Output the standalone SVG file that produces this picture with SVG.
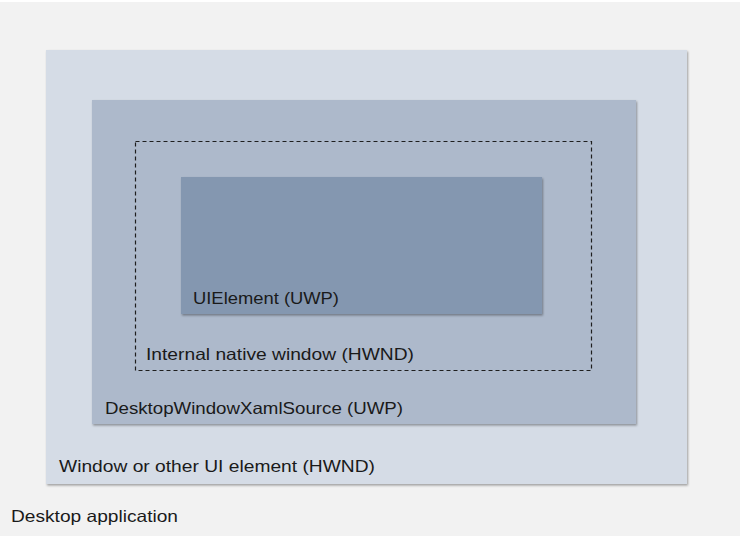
<svg xmlns="http://www.w3.org/2000/svg" width="740" height="536" viewBox="0 0 740 536">
  <defs>
    <filter id="sh" x="-5%" y="-5%" width="110%" height="110%">
      <feDropShadow dx="1" dy="1.5" stdDeviation="1.2" flood-color="#000" flood-opacity="0.35"/>
    </filter>
  </defs>
  <style>
    text { font-family: "Liberation Sans", Arial, sans-serif; font-size: 16.5px; fill: #1a1a1a; }
    .dash { fill: none; stroke: #1e1e1e; stroke-width: 1.2; stroke-dasharray: 4 3; }
  </style>
  <rect x="0" y="0" width="740" height="536" fill="#f2f2f2"/>
  <rect x="0" y="0" width="740" height="2" fill="#ffffff"/>
  <g id="window">
    <rect x="46" y="50" width="641" height="434" fill="#d5dce6" filter="url(#sh)"/>
    <text x="59" y="472" textLength="316" lengthAdjust="spacingAndGlyphs">Window or other UI element (HWND)</text>
  </g>
  <g id="xamlsource">
    <rect x="92" y="100" width="544" height="324" fill="#adb9cb" filter="url(#sh)"/>
    <text x="105" y="414" textLength="298" lengthAdjust="spacingAndGlyphs">DesktopWindowXamlSource (UWP)</text>
  </g>
  <g id="native">
    <rect class="dash" x="135.5" y="141.5" width="456" height="229"/>
    <text x="146" y="360" textLength="268" lengthAdjust="spacingAndGlyphs">Internal native window (HWND)</text>
  </g>
  <g id="uielement">
    <rect x="181" y="177" width="361" height="137" fill="#8497b0" filter="url(#sh)"/>
    <text x="193" y="304" textLength="146" lengthAdjust="spacingAndGlyphs">UIElement (UWP)</text>
  </g>
  <g id="connectors"/>
  <g id="app">
    <text x="11" y="522" textLength="167" lengthAdjust="spacingAndGlyphs">Desktop application</text>
  </g>
</svg>
